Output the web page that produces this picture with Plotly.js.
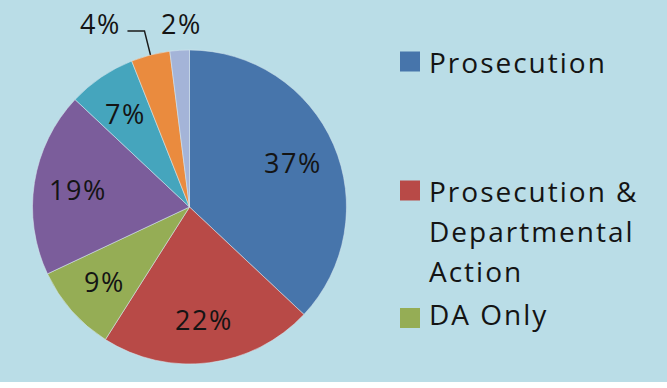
<!DOCTYPE html>
<html>
<head>
<meta charset="utf-8">
<script src="https://cdn.plot.ly/plotly-3.0.1.min.js"></script>
<style>html,body{margin:0;padding:0;background:#fff;}#chart{width:667px;height:388px;}</style>
</head>
<body>
<div id="chart"></div>
<script>
// ---- data ----
var categories = ["Prosecution", "Prosecution & Departmental Action", "DA Only", "Other 1", "Other 2", "Other 3", "Other 4"];
var values = [37, 22, 9, 19, 7, 4, 2];
var legendCategories = ["Prosecution", "Prosecution &<br>Departmental<br>Action", "DA Only"];
var insideLabelled = [true, true, true, true, true, false, false];

// ---- style / layout ----
var W = 667, H = 388;
var colors = ["#4775ab", "#b84a47", "#95ad55", "#7b5d9b", "#45a5bd", "#ea8b3e", "#a4b4d8"];
var CX = 189.5, CY = 207, R = 157;
var FONT = "Open Sans, Lato, sans-serif";
var FS = 28;
var TXT = "#141414";
function px(x){ return x / W; }
function py(y){ return 1 - y / H; }
function spaced(t, ls){ return '<span style="letter-spacing:' + ls + 'px">' + t + '</span>'; }

var total = values.reduce(function(a,b){return a+b;}, 0);
var pctText = values.map(function(v){ return Math.round(v / total * 100) + "%"; });

var trace = {
  type: "pie",
  labels: categories,
  values: values,
  sort: false,
  direction: "clockwise",
  rotation: 0,
  textinfo: "none",
  hoverinfo: "none",
  showlegend: false,
  marker: {colors: colors, line: {color: "rgba(215,232,238,0.55)", width: 1}},
  domain: {x: [px(CX - R), px(CX + R)], y: [py(CY + R), py(CY - R)]}
};

var annotations = [];
var shapes = [];

// background white strip at the bottom
shapes.push({type: "rect", xref: "paper", yref: "paper", x0: 0, x1: 1, y0: 0, y1: py(382),
  fillcolor: "#ffffff", line: {width: 0}, layer: "below"});

// slice labels computed from the data
var cum = 0;
var mids = values.map(function(v){ var m = (cum + v / 2) / total; cum += v; return m * 2 * Math.PI; });
function polar(theta, r){ return {x: CX + r * Math.sin(theta), y: CY - r * Math.cos(theta)}; }

values.forEach(function(v, i){
  if (insideLabelled[i]) {
    var p = polar(mids[i], 0.72 * R);
    annotations.push({xref: "paper", yref: "paper", x: px(p.x), y: py(p.y), text: spaced(pctText[i], 1.5),
      showarrow: false, xanchor: "center", yanchor: "middle", font: {family: FONT, size: FS - 1, color: TXT}});
  }
});
// 2% label directly outside
(function(){
  var i = 6;
  var p = polar(mids[i], 1.17 * R);
  annotations.push({xref: "paper", yref: "paper", x: px(p.x + 4), y: py(p.y), text: spaced(pctText[i], 1.5),
    showarrow: false, xanchor: "center", yanchor: "middle", font: {family: FONT, size: FS - 1, color: TXT}});
})();
// 4% label with bent leader line
(function(){
  var i = 5;
  var e = polar(mids[i], 1.0 * R);
  var bend = {x: e.x - 6, y: e.y - 24};
  var end = {x: bend.x - 17, y: bend.y};
  shapes.push({type: "path", xref: "paper", yref: "paper",
    path: "M" + px(e.x) + "," + py(e.y) + " L" + px(bend.x) + "," + py(bend.y) + " L" + px(end.x) + "," + py(end.y),
    line: {color: "#1a1a1a", width: 1.5}});
  annotations.push({xref: "paper", yref: "paper", x: px(end.x - 4), y: py(end.y - 7), text: spaced(pctText[i], 1.5),
    showarrow: false, xanchor: "right", yanchor: "middle", font: {family: FONT, size: FS - 1, color: TXT}});
})();

// legend built from the first three categories
var legendTop = [61.5, 190.5, 314];
var lineGap = 40;
legendCategories.forEach(function(lbl, i){
  var yc = legendTop[i];
  shapes.push({type: "rect", xref: "paper", yref: "paper",
    x0: px(400), x1: px(420), y0: py(yc + 10 + (i === 2 ? 4 : 0)), y1: py(yc - 10 + (i === 2 ? 4 : 0)),
    fillcolor: colors[i], line: {width: 0}});
  lbl.split("<br>").forEach(function(line, k){
    annotations.push({xref: "paper", yref: "paper", x: px(427), y: py(yc + k * lineGap), text: spaced(line, 2),
      showarrow: false, xanchor: "left", yanchor: "middle", font: {family: FONT, size: FS, color: TXT}});
  });
});

var layout = {
  width: W, height: H,
  margin: {l: 0, r: 0, t: 0, b: 0, pad: 0},
  paper_bgcolor: "#badde7",
  plot_bgcolor: "#badde7",
  showlegend: false,
  annotations: annotations,
  shapes: shapes
};

Plotly.newPlot("chart", [trace], layout, {staticPlot: true, displayModeBar: false});
</script>
</body>
</html>
